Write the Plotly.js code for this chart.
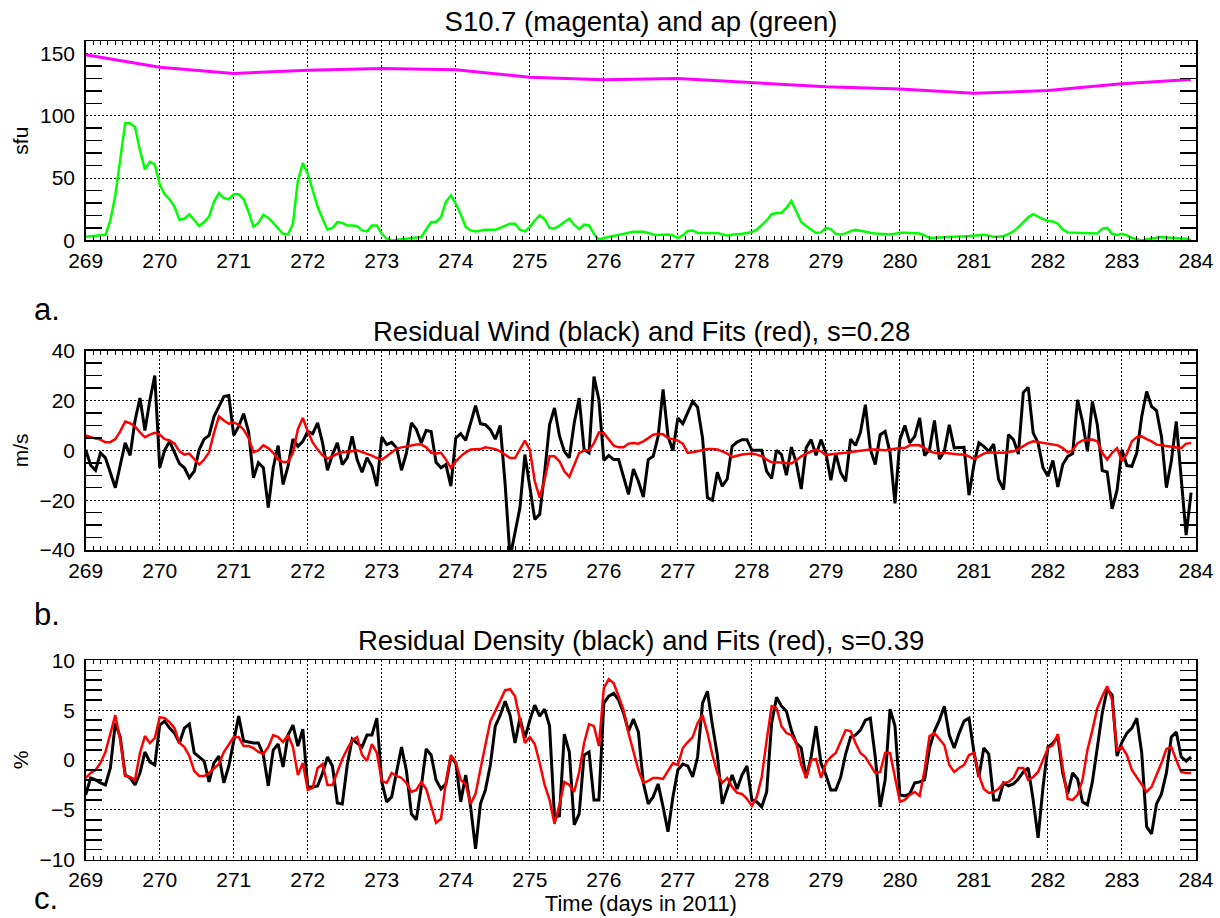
<!DOCTYPE html>
<html>
<head>
<meta charset="utf-8">
<script src="https://cdn.plot.ly/plotly-3.0.1.min.js"></script>
<style>
html,body{margin:0;padding:0;background:#fff;}
#chart{width:1220px;height:918px;}
</style>
</head>
<body>
<div id="chart"></div>
<script>
// ---- Data ----
// orbit-resolution samples: 15 per day, starting at day 269
const startDay = 269;
const samplesPerDay = 15;

// F10.7 (S10.7) daily values, sfu
const f107Days = [269, 270, 271, 272, 273, 274, 275, 276, 277, 278, 279, 280, 281, 282, 283, 283.93];
const f107Vals = [149, 139, 134, 136.6, 138, 137, 131, 129, 130, 126.7, 123.3, 121.4, 118, 120.3, 125.7, 129.2];

// ap index interpolated to orbit times
const apVals = [
  3,3.5,4,4.3,4.5,16,36,65,94,94,91,72,57,63,61,
  45,37,33,27,16.6,17.4,21,16.6,11.5,14.7,19,31,38,34,33,
  37,37,33,23,11,14,20.6,18,14,9.4,5.3,4.8,13.4,48,62,
  53.5,40,27,17.4,8.6,10,14.7,14,12,12,11.5,8,7.2,12,12,
  5.3,1.3,0,0.5,1.3,2,2.4,2.4,2.7,8.6,14.7,15,18.7,31,36,
  29.4,21,11,8,7.2,8,8.6,8.6,8.6,10,11.5,13.4,13.4,8.6,7.2,
  10.7,16,20,17,10,9.6,11.8,14.7,17.4,12.6,9,12.6,12,5.3,0.5,
  1.9,2.7,3.7,4.3,4.8,5.9,7,7,7,6,4.8,4.3,4.3,4.8,4,
  1.9,4,7.5,8,6,6,6,6,6,4.8,4,4.5,4.8,5.3,6,
  6.7,8.6,12,16,21,22,22,26,31.6,23.5,14.7,11.5,8.6,6,6.4,
  10,9,5.3,4.8,5.6,7.5,8.6,7.8,6.7,6.2,5.6,5.3,4.8,4.8,5.3,
  6.2,6.2,6,6,5.6,4,1.9,2.1,2.4,2.4,2.7,3.2,3.2,3.2,3.5,
  4,4.5,4.5,3.7,3,3,3.5,5,7.2,10.7,15,18.5,21,18.7,17,
  15.5,15.2,13.4,8.8,6.4,6.2,6.2,6.2,5.9,5.3,5.6,9.4,10,5.3,4.3,
  5.3,4,2,0.8,0,1,1.6,2.4,2.7,2.4,2.1,2.1,1.9,1.3,0.3
];

// Residual wind (m/s): observed (black) and fit (red)
const windObs = [
  0.3,-6,-8,-1,-3,-9,-15,-6,3,-2,12,21,8,20,30,
  -7,0,3.6,-1,-5.3,-7,-11,-8.4,0.3,4.5,6,13.6,17.6,21.6,22,
  6,9.6,14.7,7.6,-11,-5,-7,-23,-7,1.9,-13.7,-6.4,4.5,1.6,3.6,
  7.6,6.7,11,3,-8,-1.7,3,-5.7,-3,5.6,-3.7,-8.8,-3,-6.4,-14.4,
  5.3,2.3,3.2,1,-8,-1,11,8.5,3,8,7.6,-4.8,-7,-5.7,-14.4,
  5,6.7,4,10.7,17.9,10.7,10.3,8.3,4.5,10,-13.7,-43,-33.7,-23,-1.7,
  -15.7,-27.7,-25.7,-9,10.3,17,5.9,-0.4,-3,11,21,0.3,-1,29.6,20.3,
  -4,-2.1,-3.7,-3.7,-10.4,-17.7,-7.5,-12.4,-18.7,-3.7,-2.4,5.6,24.5,5.6,-0.1,
  13,10.7,15,19.6,17.3,5,-19,-20,-8.8,-14.4,-11.5,1.6,3.3,4.3,4.3,
  0,0,0,-8.4,-11.3,0,-1.7,-10,1.3,-5,-15.5,1,4.3,-2,4.3,
  -1,-12,-1.3,-9,-12.4,4.5,2,7.2,18.3,0.5,-5.7,6.3,7.6,-1,-21.3,
  4.3,10,3,5.6,13,-2.1,0.3,12,-3.5,-0.4,10.3,1,1,1.2,-18,
  -5.7,3,1.6,-0.4,2.5,-11.7,-15.7,6.3,4.3,-1.5,23.2,25.3,7,3,-7,
  -10.4,-4.1,-14.7,-5.7,-2.4,-1.3,20.3,11.6,-0.4,19.6,10.3,-8.1,-8.7,-23.5,-16,
  0.3,-6.1,-6.4,-1,13.6,23.6,17.6,16,5.6,-15,-4.4,11.6,-11,-34,-17
];
const windFit = [
  6,5.3,4.7,4.3,3.3,3.3,4.5,7.6,11.6,10.9,9.6,7.2,5.3,6.3,7,
  6.3,4.5,4,2.7,-0.4,-1.7,-1.3,-3.7,-5.7,-3.7,-0.8,7,13.6,12,10.7,
  11.2,10.3,8.3,5,-0.7,0,2,0.9,-1,-3.7,-4.7,-4.7,-1,8.5,13,
  7.6,3.2,0.3,-2,-3.3,-2.4,-1.3,-0.8,-0.7,-0.4,0,-0.7,-1.3,-2.1,-3.1,
  -3.7,-2.4,-0.8,0.7,1.2,1.6,2,2.3,2.3,1.2,-1,-1.3,-1,-3.7,-7,
  -4.4,-2.4,-0.8,0.3,0.5,0.5,1.2,0.9,0.5,-0.4,-1.7,-3.1,-3.1,0.3,3.9,
  0.3,-12.4,-19,-11.7,-2.4,-2.4,-4.4,-8.4,-10.7,-5.7,-1,-0.1,-0.1,2.9,7.2,
  6.9,4.3,1.9,1.2,1.2,2.7,2.9,2.7,3.6,4.9,6.3,6.7,6.5,4.9,4.5,
  3.9,2.7,-1,-0.8,-0.4,0.3,0.5,0.5,0.3,-0.4,-1.3,-2.7,-2.1,-1.7,-1.5,
  -1.3,-1.7,-2.4,-3.7,-4.8,-4.8,-5,-5,-5.3,-4,-2.4,-1.3,-0.4,0.3,-0.4,
  -2,-1.6,-1.5,-1.3,-1,-0.7,-0.4,-0.4,0,0.3,0.3,0.1,0,0.3,0.7,
  0.9,0.9,2,2,2,0.9,-0.4,-1,-1.3,-1,-1.3,-1.6,-1.7,-1.7,-2.4,
  -3.5,-2.4,-1.3,-0.8,-1,-1,-1,-0.7,-0.4,0.5,1.6,2.9,3.6,3.3,2.9,
  2.7,2.3,2,0.9,-0.8,0,2.9,4,4.3,4.3,3.6,-1,-3.7,-1,0.9,
  -4.4,-1.3,3.6,5.3,5.6,4.5,3.6,2.3,2,2,1.6,1.3,0.9,2.7,2.9
];

// Residual density (%): observed (black) and fit (red)
const densObs = [
  -3.5,-1.8,-2,-2.3,-2.5,-0.8,3.7,2.3,-1.5,-1.8,-2.5,-1.3,0.8,-0.2,-0.5,
  3.5,3.9,3.2,2.7,1.7,3.2,3.6,0.7,0.3,-0.1,-2.2,-0.3,0.4,-2.3,-0.6,
  2,4.4,1.9,1.8,1.7,1.7,0.5,-2.6,1,1.6,-0.7,2.5,3.5,1.4,3.1,
  -2.7,-2.7,-2.6,-1.3,0.3,-0.6,-4.3,-4.4,-0.5,2.1,1.7,1.3,2.5,2.5,4.2,
  -2.2,-4.2,-3.7,-1.2,1.3,-1.1,-5.4,-6,-2.7,1.1,0.5,-2,-2.9,-2.4,0.3,
  -0.3,-4.2,-1.5,-4.7,-8.9,-4.4,-3,-0.5,3.4,4.5,5.9,4.5,1.7,4.2,2.2,
  4,5.5,4.4,5.1,3.4,-5.7,-5.6,2.6,0.8,-6.5,-5.4,0.5,0.8,-4,-4,
  5.7,6.4,6.7,6,4.7,2.9,4.1,2.8,-2.3,-4.4,-3.7,-2.4,-4.7,-7.2,-3.7,
  -1,-0.4,-0.6,-1.7,0.3,5.7,6.9,3.5,0.5,-4.4,-2.9,-1.5,-2.9,-1.5,-0.6,
  -4,-4.2,-4.7,-3.2,3.7,6.3,5.4,4.9,3,1.7,1.2,-1.8,0.3,3.4,-0.3,
  -1.5,-3,-3,-1.7,0.6,2.3,2.5,3,4,4.2,0.3,-4.7,-2,5.1,3.4,
  -3.5,-3.6,-3.4,-2.3,-2.2,-2,1.2,2.9,4,5.4,2.5,1.2,2.7,3.9,4.2,
  0.8,-1.7,1.2,0.6,-4,-4,-2.3,-2.6,-2.4,-1.9,-1.2,-0.8,-4,-7.8,-2.7,
  1.3,1.7,2.3,-1.3,-3.4,-1.3,-1.9,-4.2,-4.5,-2.2,1.5,4.7,7.1,6.5,0.4,
  1.8,2.7,3.2,4.2,0.7,-6.7,-7.4,-4.4,-3.4,-1.3,2.3,2.8,0.3,-0.1,0.3
];
const densFit = [
  -1.8,-1.3,-1,-0.3,0.8,2.7,4.5,2,-1.6,-1.7,-2,0.7,2.4,1.7,2.2,
  4.3,4.2,3.8,3.2,1.7,1.3,0.4,-1.1,-1.6,-1.6,-1.3,-0.8,-0.4,0.8,1.5,
  2.3,2.3,1.4,1.4,1.2,0.8,0.6,1.3,2.5,2.3,1.8,2.5,1.3,-1.5,-0.3,
  -3,-2.8,-0.8,-0.4,-2.5,-2.5,-1.2,0.1,1.1,2,2.3,0.5,-0.1,1.6,0.7,
  -2.1,-2.3,-1.3,-1.6,-1.8,-2.3,-3.2,-3,-2.2,-2.9,-4.7,-6.3,-5.9,-2.2,0.5,
  -0.2,-2,-2.4,-4.4,-3.4,-0.9,1.7,3.9,4.9,6,7,7.1,6.4,4,1.7,
  2.3,1.6,-0.3,-2.5,-4,-6.4,-4.5,-2.2,-2.5,-3.2,-1.2,1.7,3.6,3.4,1.4,
  7.2,8.1,7.7,6.4,5,2.7,0.7,-1,-2.3,-2.1,-1.8,-1.8,-1.9,-1.1,-0.3,
  -0.5,1.2,1.8,2.3,3.7,4.5,2.7,0.5,-1.3,-2.3,-1.8,-2.7,-3.3,-3.4,-3.9,
  -4.6,-3.7,-1.7,2,5.4,5.2,3.4,2.7,2.5,1.7,-0.5,-1.8,0,0.1,-1.8,
  -0.3,0.3,0.7,1.8,3,2.9,1.7,0.7,0.3,-0.5,-1.3,-1.2,0.7,0.7,-1.7,
  -4.2,-4,-3.5,-3.2,-3.6,-1,2.4,2.7,2.1,1.5,-0.5,-1.2,-0.8,-0.5,0.5,
  0.7,-1.5,-2.9,-3.3,-3.2,-2.9,-2.3,-2.2,-1.8,-0.8,-0.8,-2,-1.7,-1.2,0,
  1.2,1.5,2.6,-0.8,-3.9,-4,-3.5,-2,1,3,5.2,6.4,7.4,6,1,
  1.3,0.5,-1,-1.7,-2.5,-3.2,-2.7,-1.5,-0.3,1.1,1.3,0,-1.2,-1.3,-1.3
];

// ---- Build ----
const times = apVals.map((_, i) => startDay + i / samplesPerDay);
const FONT = '"Liberation Sans", Arial, Helvetica, sans-serif';

const traces = [
  {x: f107Days, y: f107Vals, xaxis: 'x', yaxis: 'y', mode: 'lines', line: {color: '#ff00ff', width: 3}, name: 'S10.7'},
  {x: times, y: apVals, xaxis: 'x', yaxis: 'y', mode: 'lines', line: {color: '#00ff00', width: 2.5}, name: 'ap'},
  {x: times, y: windObs, xaxis: 'x2', yaxis: 'y2', mode: 'lines', line: {color: '#000000', width: 3}, name: 'Residual wind'},
  {x: times, y: windFit, xaxis: 'x2', yaxis: 'y2', mode: 'lines', line: {color: '#ff0000', width: 2.5}, name: 'Wind fit'},
  {x: times, y: densObs, xaxis: 'x3', yaxis: 'y3', mode: 'lines', line: {color: '#000000', width: 3}, name: 'Residual density'},
  {x: times, y: densFit, xaxis: 'x3', yaxis: 'y3', mode: 'lines', line: {color: '#ff0000', width: 2.5}, name: 'Density fit'}
];

const XDOM = [85.7 / 1220, 1196 / 1220];
function py(px) { return 1 - px / 918; }
const CLEAR = 'rgba(0,0,0,0)';

function xAxis(anchor) {
  return {
    domain: XDOM, anchor: anchor, range: [269, 284],
    tickmode: 'linear', tick0: 269, dtick: 1,
    ticks: 'inside', ticklen: 4, tickwidth: 1, tickcolor: CLEAR,
    showgrid: true, gridcolor: '#000', gridwidth: 1, griddash: '2px,2px',
    showline: true, linecolor: '#000', linewidth: 1.5, mirror: 'allticks',
    minor: {dtick: 0.1, tick0: 269, ticks: 'inside', ticklen: 4, tickwidth: 1, tickcolor: '#000', showgrid: false},
    tickfont: {family: FONT, size: 21, color: '#000'},
    ticklabelstandoff: 1, zeroline: false, fixedrange: true, automargin: false
  };
}
function yAxis(anchor, dom, range, dtick, minorDtick, title) {
  return {
    domain: dom, anchor: anchor, range: range,
    tickmode: 'linear', tick0: 0, dtick: dtick,
    ticks: 'inside', ticklen: 16, tickwidth: 1.5, tickcolor: CLEAR,
    showgrid: true, gridcolor: '#000', gridwidth: 1, griddash: '2px,2px',
    showline: true, linecolor: '#000', linewidth: 1.5, mirror: 'allticks',
    minor: {dtick: minorDtick, tick0: 0, ticks: 'inside', ticklen: 16, tickwidth: 1.5, tickcolor: '#000', showgrid: false},
    tickfont: {family: FONT, size: 21, color: '#000'},
    ticklabelstandoff: 5, zeroline: false, fixedrange: true, automargin: false,
    title: {text: title, font: {family: FONT, size: 21, color: '#000'}, standoff: 5}
  };
}

const xa3 = xAxis('y3');
xa3.title = {text: 'Time (days in 2011)', font: {family: FONT, size: 22, color: '#000'}, standoff: 3};

const layout = {
  width: 1220, height: 918,
  margin: {l: 0, r: 0, t: 0, b: 0},
  paper_bgcolor: '#fff', plot_bgcolor: '#fff',
  showlegend: false,
  font: {family: FONT, color: '#000'},
  title: {text: 'S10.7 (magenta) and ap (green)', font: {family: FONT, size: 27.5, color: '#000'},
          x: 641 / 1220, xanchor: 'center', xref: 'paper', y: py(21), yanchor: 'middle', yref: 'container'},
  xaxis: xAxis('y'),
  xaxis2: xAxis('y2'),
  xaxis3: xa3,
  yaxis: yAxis('x', [py(240.4), py(41)], [0, 160], 50, 10, 'sfu'),
  yaxis2: yAxis('x2', [py(550), py(350.7)], [-40, 40], 20, 5, 'm/s'),
  yaxis3: yAxis('x3', [py(859.7), py(660.3)], [-10, 10], 5, 1, '%'),
  annotations: [
    {text: 'Residual Wind (black) and Fits (red), s=0.28', xref: 'paper', yref: 'paper', x: 641 / 1220, y: py(331),
     xanchor: 'center', yanchor: 'middle', showarrow: false, font: {family: FONT, size: 27.5, color: '#000'}},
    {text: 'Residual Density (black) and Fits (red), s=0.39', xref: 'paper', yref: 'paper', x: 641 / 1220, y: py(640),
     xanchor: 'center', yanchor: 'middle', showarrow: false, font: {family: FONT, size: 27.5, color: '#000'}},
    {text: 'a.', xref: 'paper', yref: 'paper', x: 32 / 1220, y: py(309), xanchor: 'left', yanchor: 'middle',
     showarrow: false, font: {family: FONT, size: 31, color: '#000'}},
    {text: 'b.', xref: 'paper', yref: 'paper', x: 32 / 1220, y: py(614), xanchor: 'left', yanchor: 'middle',
     showarrow: false, font: {family: FONT, size: 31, color: '#000'}},
    {text: 'c.', xref: 'paper', yref: 'paper', x: 32 / 1220, y: 0, xanchor: 'left', yanchor: 'bottom',
     showarrow: false, font: {family: FONT, size: 31, color: '#000'}}
  ]
};

Plotly.newPlot('chart', traces, layout, {displayModeBar: false, staticPlot: true});
</script>
</body>
</html>
